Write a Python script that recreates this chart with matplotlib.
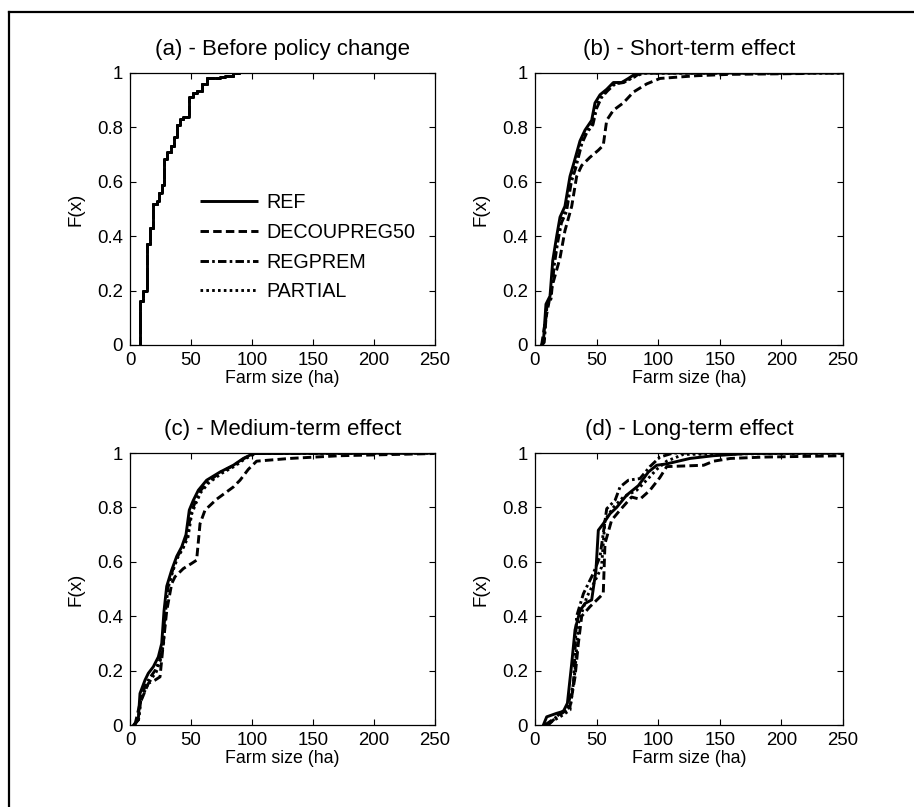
import numpy as np
import matplotlib
matplotlib.use("Agg")
import matplotlib.pyplot as plt
from matplotlib.lines import Line2D

plt.rcParams['font.family'] = ['Liberation Sans', 'DejaVu Sans']

scenarios = ['REF', 'DECOUPREG50', 'REGPREM', 'PARTIAL']
panel_titles = ['(a) - Before policy change', '(b) - Short-term effect',
                '(c) - Medium-term effect', '(d) - Long-term effect']

# (a) baseline distribution (same for every scenario), step CDF
base_x = [8.2, 8.2, 10.9, 13.7, 16.4, 18.6, 21.9, 23.8, 26.0, 28.2, 30.6, 33.6, 36.0,
          38.3, 41.0, 43.7, 48.4, 51.9, 54.6, 58.7, 62.8, 73.8, 77.9, 84.7, 90.0]
base_F = [0, 0.16, 0.20, 0.37, 0.43, 0.52, 0.53, 0.56, 0.59, 0.685, 0.71, 0.73, 0.765,
          0.81, 0.83, 0.84, 0.91, 0.925, 0.935, 0.96, 0.98, 0.985, 0.99, 1.0, 1.0]

# (b) short-term
b_ref_x = [5.4, 6.8, 8.9, 12.2, 14.4, 17.6, 20.3, 24.3, 28.4, 31.6, 36.5, 40.6, 46.0,
           48.7, 52.8, 58.2, 63.6, 70.3, 75.8, 82.5, 250]
b_ref_F = [0, 0.01, 0.15, 0.18, 0.31, 0.40, 0.47, 0.51, 0.62, 0.67, 0.75, 0.79, 0.826,
           0.89, 0.92, 0.94, 0.965, 0.965, 0.98, 1.0, 1.0]
b_dec_x = [5.4, 8.1, 13.5, 20.3, 24.3, 29.8, 33.8, 37.9, 44.6, 51.4, 55.4, 58.2, 63.6,
           71.7, 79.9, 90.7, 101.5, 131, 158, 218]
b_dec_F = [0, 0.08, 0.21, 0.32, 0.42, 0.51, 0.62, 0.66, 0.69, 0.716, 0.734, 0.826, 0.863,
           0.89, 0.93, 0.96, 0.98, 0.99, 0.995, 0.998]
b_reg_x = [5.6, 7.5, 9.6, 13.0, 15.5, 18.5, 21.5, 25.5, 29.5, 33.0, 38.0, 42.0, 47.0,
           50.0, 54.0, 59.0, 65.0, 72.0, 78.0, 86.0, 250]
b_reg_F = [0, 0.01, 0.14, 0.17, 0.29, 0.38, 0.45, 0.49, 0.60, 0.65, 0.74, 0.78, 0.81,
           0.87, 0.91, 0.935, 0.96, 0.965, 0.98, 1.0, 1.0]
b_par_x = [5.5, 7.2, 9.3, 12.8, 15.0, 18.2, 21.0, 25.0, 29.0, 32.5, 37.5, 41.5, 46.5,
           49.5, 53.5, 59.0, 64.5, 71.0, 77.0, 88.0, 250]
b_par_F = [0, 0.01, 0.14, 0.175, 0.30, 0.39, 0.46, 0.50, 0.61, 0.66, 0.745, 0.785, 0.82,
           0.88, 0.915, 0.94, 0.962, 0.965, 0.978, 1.0, 1.0]

# (c) medium-term
c_ref_x = [3.0, 6.8, 8.2, 12.3, 15.0, 19.1, 23.2, 26.0, 27.9, 30.1, 34.2, 38.3, 42.4,
           45.9, 48.6, 51.9, 56.0, 62.8, 73.8, 84.7, 92.9, 101, 250]
c_ref_F = [0, 0.02, 0.116, 0.165, 0.19, 0.214, 0.25, 0.30, 0.42, 0.51, 0.57, 0.62, 0.655,
           0.70, 0.79, 0.826, 0.863, 0.90, 0.93, 0.955, 0.98, 0.998, 1.0]
c_dec_x = [4.0, 8.2, 15.0, 20.5, 24.6, 27.3, 30.1, 34.2, 36.9, 43.7, 50.5, 54.6, 57.4,
           61.5, 71.0, 84.7, 90.2, 97.0, 103.8, 131, 172, 249]
c_dec_F = [0, 0.08, 0.153, 0.165, 0.177, 0.30, 0.42, 0.52, 0.545, 0.575, 0.594, 0.606,
           0.74, 0.79, 0.83, 0.875, 0.90, 0.94, 0.97, 0.98, 0.99, 0.998]
c_reg_x = [3.5, 7.0, 9.0, 13.0, 16.5, 20.5, 24.5, 27.0, 28.8, 31.0, 35.0, 39.0, 43.5,
           47.0, 50.0, 53.5, 57.5, 64.0, 74.5, 85.5, 93.5, 102, 250]
c_reg_F = [0, 0.02, 0.10, 0.15, 0.175, 0.20, 0.24, 0.30, 0.42, 0.51, 0.57, 0.62, 0.655,
           0.70, 0.78, 0.82, 0.86, 0.895, 0.93, 0.955, 0.98, 0.998, 1.0]
c_par_x = [3.2, 7.0, 8.8, 13.5, 17.5, 21.5, 25.0, 27.5, 29.0, 31.0, 35.0, 39.0, 43.5,
           47.5, 50.5, 54.0, 58.0, 64.5, 75.0, 86.0, 94.0, 103, 250]
c_par_F = [0, 0.02, 0.09, 0.14, 0.17, 0.195, 0.24, 0.30, 0.41, 0.50, 0.565, 0.615, 0.65,
           0.69, 0.775, 0.815, 0.855, 0.89, 0.925, 0.952, 0.978, 0.998, 1.0]

# (d) long-term
d_ref_x = [6.8, 9.5, 17.6, 23.0, 26.3, 29.8, 32.5, 36.5, 40.6, 46.0, 49.5, 51.4, 55.4,
           60.9, 66.3, 74.4, 83.9, 92.0, 98.8, 106.9, 125.8, 144.8, 172, 250]
d_ref_F = [0, 0.03, 0.043, 0.05, 0.08, 0.226, 0.35, 0.42, 0.447, 0.46, 0.57, 0.716, 0.74,
           0.777, 0.80, 0.845, 0.88, 0.93, 0.955, 0.96, 0.98, 0.99, 0.998, 1.0]
d_dec_x = [10.8, 13.5, 20.3, 28.4, 32.5, 35.2, 37.9, 44.6, 51.4, 55.4, 56.8, 62.2, 69.0,
           78.4, 85.2, 93.3, 101.4, 106.9, 136.9, 145, 158.6, 185.7, 250]
d_dec_F = [0, 0.012, 0.043, 0.067, 0.177, 0.30, 0.40, 0.435, 0.465, 0.483, 0.667, 0.753,
           0.79, 0.838, 0.83, 0.863, 0.91, 0.95, 0.955, 0.97, 0.98, 0.985, 0.99]
d_reg_x = [8.1, 17.6, 25.7, 31.2, 33.8, 39.3, 47.3, 52.8, 58.2, 65.0, 69.0, 75.8, 85.2,
           93.3, 101.4, 112.2, 250]
d_reg_F = [0, 0.03, 0.055, 0.15, 0.40, 0.483, 0.557, 0.62, 0.795, 0.826, 0.875, 0.90,
           0.906, 0.95, 0.985, 1.0, 1.0]
d_par_x = [8.1, 20.3, 28.4, 32.5, 35.2, 42.0, 48.7, 54.0, 56.8, 63.6, 71.7, 82.5, 90.6,
           98.8, 106.9, 120.4, 250]
d_par_F = [0, 0.03, 0.055, 0.20, 0.373, 0.47, 0.53, 0.58, 0.753, 0.80, 0.838, 0.863, 0.90,
           0.94, 0.97, 0.995, 1.0]

panel_data = [
    None,
    [(b_ref_x, b_ref_F), (b_dec_x, b_dec_F), (b_reg_x, b_reg_F), (b_par_x, b_par_F)],
    [(c_ref_x, c_ref_F), (c_dec_x, c_dec_F), (c_reg_x, c_reg_F), (c_par_x, c_par_F)],
    [(d_ref_x, d_ref_F), (d_dec_x, d_dec_F), (d_reg_x, d_reg_F), (d_par_x, d_par_F)],
]

styles = {
    'REF': dict(linestyle='-'),
    'DECOUPREG50': dict(linestyle=(0, (2.9, 1.45))),
    'REGPREM': dict(linestyle=(0, (2.9, 1.1, 0.9, 1.1))),
    'PARTIAL': dict(linestyle=(0, (0.9, 1.1))),
}

W, H = 914, 807
fig = plt.figure(figsize=(W / 100, H / 100), dpi=100)

# axes boxes in pixels: left, top, width, height
boxes = [(130, 73, 305, 272), (535, 73, 308, 272),
         (130, 453, 305, 272), (535, 453, 308, 272)]

for i, (l, t, w, h) in enumerate(boxes):
    ax = fig.add_axes([l / W, 1 - (t + h) / H, w / W, h / H])
    draw_order = ['PARTIAL', 'REGPREM', 'DECOUPREG50', 'REF']
    for name in draw_order:
        k = scenarios.index(name)
        if i == 0:
            ax.plot(base_x, base_F, color='black', lw=2.1, drawstyle='steps-post',
                    label=name, solid_capstyle='butt', dash_capstyle='butt',
                    **styles[name])
        else:
            x, F = panel_data[i][k]
            ax.plot(x, F, color='black', lw=2.1, label=name,
                    dash_capstyle='butt', **styles[name])
    ax.set_xlim(0, 250)
    ax.set_ylim(0, 1)
    ax.set_xticks([0, 50, 100, 150, 200, 250])
    ax.set_yticks([0, 0.2, 0.4, 0.6, 0.8, 1])
    ax.set_yticklabels(['0', '0.2', '0.4', '0.6', '0.8', '1'])
    ax.tick_params(direction='in', top=True, right=True, length=4, width=0.8,
                   labelsize=13.4, pad=5)
    for sp in ax.spines.values():
        sp.set_linewidth(0.9)
    ax.set_title(panel_titles[i], fontsize=16, pad=13)
    ax.set_xlabel('Farm size (ha)', fontsize=12.8, labelpad=1)
    ax.set_ylabel('F(x)', fontsize=13.5, labelpad=9)
    if i == 0:
        handles, labels = ax.get_legend_handles_labels()
        order = [labels.index(s) for s in scenarios]
        ax.legend([handles[j] for j in order], [labels[j] for j in order],
                  loc='center left', bbox_to_anchor=(0.23, 0.36), frameon=False,
                  fontsize=14.2, handlelength=2.95, labelspacing=0.55,
                  handletextpad=0.4, borderpad=0, borderaxespad=0)

# outer frame (left and top edges visible)
fig.add_artist(Line2D([8.5 / W, 8.5 / W], [0, 1 - 12 / H], color='black', lw=1.6,
                      transform=fig.transFigure))
fig.add_artist(Line2D([8.5 / W, 1], [1 - 12 / H, 1 - 12 / H], color='black', lw=1.6,
                      transform=fig.transFigure))

fig.savefig('out.png', dpi=100)
